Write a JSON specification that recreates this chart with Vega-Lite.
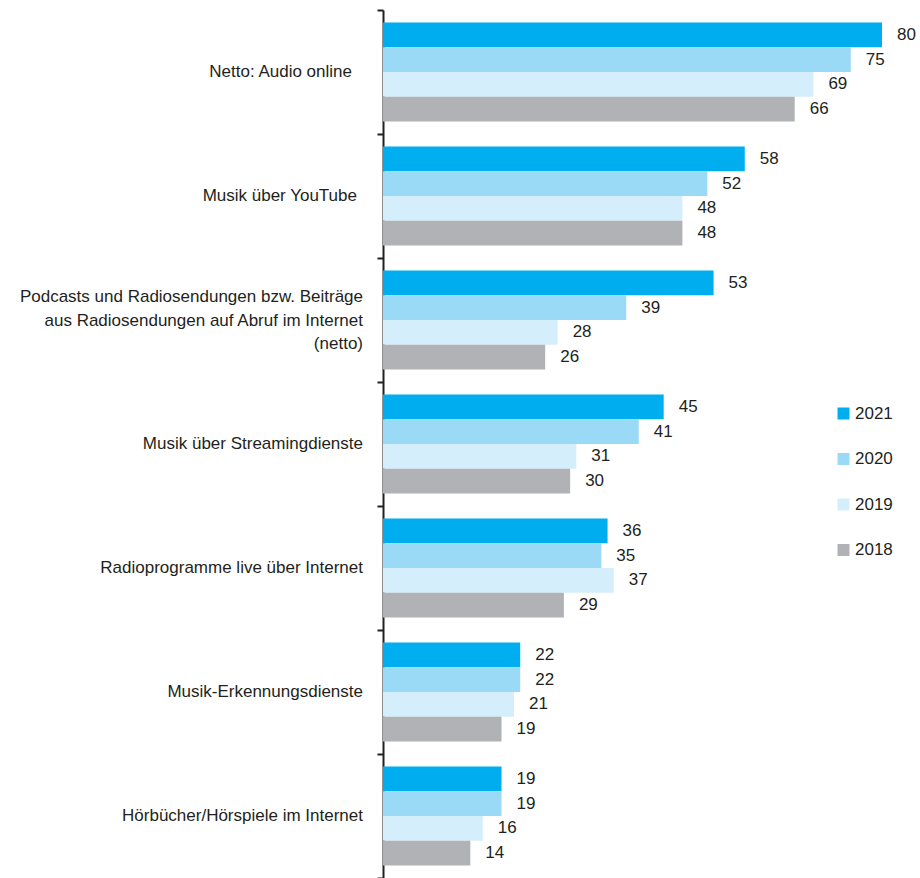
{
  "$schema": "https://vega.github.io/schema/vega-lite/v6.json",
  "autosize": {"type": "none"},
  "padding": {"left": 383, "top": 10, "right": 38, "bottom": 0},
  "width": 499,
  "height": 868,
  "background": "#ffffff",
  "config": {
    "view": {"stroke": null},
    "font": "Liberation Sans",
    "text": {"font": "Liberation Sans"}
  },
  "data": {
    "values": [
      {"cat": "Netto: Audio online", "year": "2021", "value": 80},
      {"cat": "Netto: Audio online", "year": "2020", "value": 75},
      {"cat": "Netto: Audio online", "year": "2019", "value": 69},
      {"cat": "Netto: Audio online", "year": "2018", "value": 66},
      {"cat": "Musik über YouTube", "year": "2021", "value": 58},
      {"cat": "Musik über YouTube", "year": "2020", "value": 52},
      {"cat": "Musik über YouTube", "year": "2019", "value": 48},
      {"cat": "Musik über YouTube", "year": "2018", "value": 48},
      {"cat": "Podcasts und Radiosendungen bzw. Beiträge|aus Radiosendungen auf Abruf im Internet|(netto)", "year": "2021", "value": 53},
      {"cat": "Podcasts und Radiosendungen bzw. Beiträge|aus Radiosendungen auf Abruf im Internet|(netto)", "year": "2020", "value": 39},
      {"cat": "Podcasts und Radiosendungen bzw. Beiträge|aus Radiosendungen auf Abruf im Internet|(netto)", "year": "2019", "value": 28},
      {"cat": "Podcasts und Radiosendungen bzw. Beiträge|aus Radiosendungen auf Abruf im Internet|(netto)", "year": "2018", "value": 26},
      {"cat": "Musik über Streamingdienste", "year": "2021", "value": 45},
      {"cat": "Musik über Streamingdienste", "year": "2020", "value": 41},
      {"cat": "Musik über Streamingdienste", "year": "2019", "value": 31},
      {"cat": "Musik über Streamingdienste", "year": "2018", "value": 30},
      {"cat": "Radioprogramme live über Internet", "year": "2021", "value": 36},
      {"cat": "Radioprogramme live über Internet", "year": "2020", "value": 35},
      {"cat": "Radioprogramme live über Internet", "year": "2019", "value": 37},
      {"cat": "Radioprogramme live über Internet", "year": "2018", "value": 29},
      {"cat": "Musik-Erkennungsdienste", "year": "2021", "value": 22},
      {"cat": "Musik-Erkennungsdienste", "year": "2020", "value": 22},
      {"cat": "Musik-Erkennungsdienste", "year": "2019", "value": 21},
      {"cat": "Musik-Erkennungsdienste", "year": "2018", "value": 19},
      {"cat": "Hörbücher/Hörspiele im Internet", "year": "2021", "value": 19},
      {"cat": "Hörbücher/Hörspiele im Internet", "year": "2020", "value": 19},
      {"cat": "Hörbücher/Hörspiele im Internet", "year": "2019", "value": 16},
      {"cat": "Hörbücher/Hörspiele im Internet", "year": "2018", "value": 14}
    ]
  },
  "encoding": {
    "y": {
      "field": "cat",
      "type": "nominal",
      "sort": null,
      "scale": {"paddingInner": 0, "paddingOuter": 0},
      "axis": {
        "title": null,
        "tickBand": "extent",
        "domainColor": "#231F20",
        "domainWidth": 2,
        "tickColor": "#231F20",
        "tickWidth": 2,
        "tickSize": 6,
        "labels": false
      }
    }
  },
  "layer": [
    {
      "mark": {"type": "bar"},
      "encoding": {
        "x": {
          "field": "value",
          "type": "quantitative",
          "scale": {"domain": [0, 80], "nice": false, "zero": true},
          "axis": null
        },
        "yOffset": {
          "field": "year",
          "type": "nominal",
          "sort": ["2021", "2020", "2019", "2018"],
          "scale": {"paddingInner": 0, "paddingOuter": 0.5}
        },
        "color": {
          "field": "year",
          "type": "nominal",
          "scale": {
            "domain": ["2021", "2020", "2019", "2018"],
            "range": ["#00AEEF", "#9BDAF6", "#D5EEFB", "#B1B2B5"]
          },
          "legend": {
            "title": null,
            "orient": "none",
            "legendX": 452,
            "legendY": 395,
            "symbolType": "square",
            "symbolSize": 144,
            "symbolStrokeWidth": 0,
            "labelFontSize": 17,
            "labelFont": "Liberation Sans",
            "labelColor": "#231F20",
            "labelOffset": 3,
            "rowPadding": 27.5
          }
        }
      }
    },
    {
      "mark": {"type": "text", "align": "left", "baseline": "middle", "dx": 15, "fontSize": 17, "color": "#231F20", "font": "Liberation Sans"},
      "encoding": {
        "x": {"field": "value", "type": "quantitative"},
        "yOffset": {
          "field": "year",
          "type": "nominal",
          "sort": ["2021", "2020", "2019", "2018"]
        },
        "text": {"field": "value", "type": "quantitative"}
      }
    },
    {
      "transform": [{"filter": "datum.year == '2021'"}],
      "mark": {
        "type": "text",
        "align": "right",
        "baseline": "middle",
        "dx": {"expr": "datum.cat == 'Netto: Audio online' ? -31 : datum.cat == 'Musik über YouTube' ? -26 : -20"},
        "dy": {"expr": "indexof(datum.cat, '|') >= 0 ? -23 : 0"},
        "lineBreak": "|",
        "lineHeight": 23.5,
        "fontSize": 17,
        "color": "#231F20",
        "font": "Liberation Sans"
      },
      "encoding": {
        "x": {"datum": 0},
        "text": {"field": "cat", "type": "nominal"}
      }
    }
  ]
}
